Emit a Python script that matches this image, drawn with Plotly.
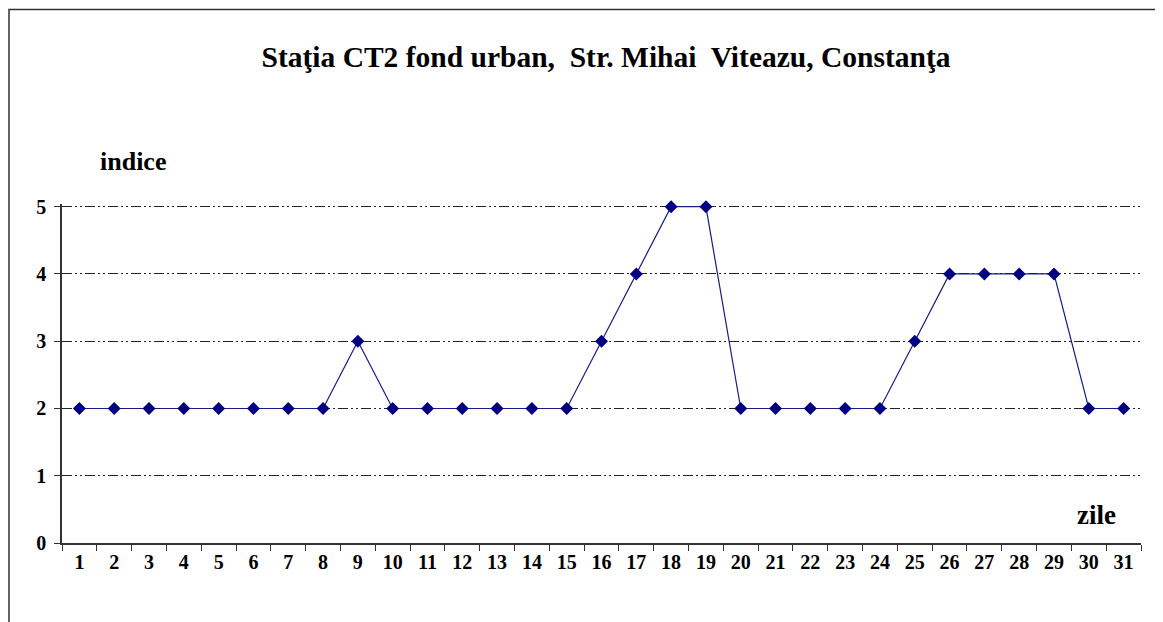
import plotly.graph_objects as go

days = [str(d) for d in range(1, 32)]
indice = [2, 2, 2, 2, 2, 2, 2, 2, 3, 2, 2, 2, 2, 2, 2, 3, 4, 5, 5, 2, 2, 2, 2, 2, 3, 4, 4, 4, 4, 2, 2]
y_ticks = [0, 1, 2, 3, 4, 5]

title_text = "Staţia CT2 fond urban,  Str. Mihai  Viteazu, Constanţa"
font_family = "Liberation Serif, Times New Roman, serif"

fig = go.Figure()
fig.add_trace(go.Scatter(
    x=days, y=indice, mode="lines+markers",
    line=dict(color="#1a1a80", width=1.2),
    marker=dict(symbol="diamond", size=10, color="#000080"),
    cliponaxis=False, showlegend=False,
))

# page offset of the plot inside the browser (body margin)
OX, OY = 7, 8
W, H = 1156, 614
YMAX = 5.04
unit = (543 - 207) / 5.0
top_screen = 543 - unit * YMAX
L, R = 61 - OX, W - (1140 - OX)
T, B = top_screen - OY, H - (543 - OY)
pw, ph = W - L - R, H - T - B


def px(xs):
    return (xs - OX - L) / pw


def py(ys):
    return (H - B - (ys - OY)) / ph


fig.update_layout(
    width=W, height=H,
    margin=dict(l=L, r=R, t=T, b=B),
    paper_bgcolor="white", plot_bgcolor="white",
    title=dict(text=title_text, x=(605 - OX) / W, xanchor="center", xref="container",
               y=1 - (57 - OY) / H, yanchor="middle", yref="container",
               font=dict(family=font_family, size=29.5, color="black", weight="bold")),
    xaxis=dict(type="category", tickson="boundaries", ticks="outside", ticklen=6,
               tickcolor="#333", showline=True, linecolor="#333", linewidth=1.5,
               showgrid=False, range=[-0.5, 30.5],
               tickfont=dict(family=font_family, size=20, color="black", weight="bold")),
    yaxis=dict(range=[0, YMAX], tickvals=y_ticks, ticks="outside", ticklen=6,
               tickcolor="#333", showline=True, linecolor="#333", linewidth=1.5,
               showgrid=True, gridcolor="#222", gridwidth=1,
               griddash="10px,3px,2px,3px,2px,3px", zeroline=False,
               ticklabelstandoff=4,
               tickfont=dict(family=font_family, size=20, color="black", weight="bold")),
    annotations=[
        dict(text="indice", x=px(132), y=py(162), xref="paper", yref="paper",
             showarrow=False, xanchor="center", yanchor="middle",
             font=dict(family=font_family, size=26, color="black", weight="bold")),
        dict(text="zile", x=px(1095), y=py(515), xref="paper", yref="paper",
             showarrow=False, xanchor="center", yanchor="middle",
             font=dict(family=font_family, size=27, color="black", weight="bold")),
    ],
    shapes=[
        dict(type="rect", xref="paper", yref="paper",
             x0=px(8), x1=px(1250), y0=py(700), y1=py(10),
             line=dict(color="#333", width=1.5), fillcolor="rgba(0,0,0,0)", layer="below"),
    ],
)

fig.write_html("out.html")
